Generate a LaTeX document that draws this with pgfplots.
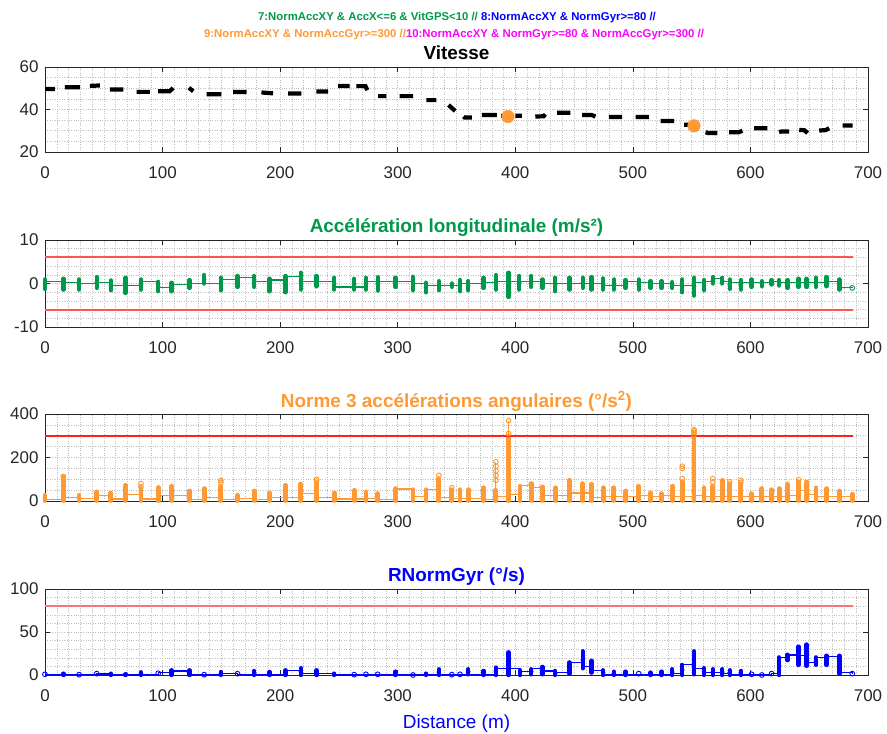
\documentclass[border=0pt]{standalone}
\usepackage{pgfplots}
\usepackage{pgfplotstable}
\pgfplotsset{compat=1.18}
\usepackage{fontspec}
\setmainfont{Liberation Sans}

\definecolor{axisgray}{rgb}{0.15,0.15,0.15}
\definecolor{gridgray}{rgb}{0.75,0.75,0.75}
\definecolor{mgreen}{rgb}{0,0.6,0.3}
\definecolor{morange}{rgb}{1,0.6,0.2}
\definecolor{mblue}{rgb}{0,0,1}
\definecolor{mmagenta}{rgb}{1,0,1}
\definecolor{accred}{rgb}{1,0.33,0.33}
\definecolor{gyrred}{rgb}{1,0.12,0.12}
\definecolor{rngred}{rgb}{0.95,0.47,0.47}

% ---------------- speed (GPS), one row pair per dash ----------------
\pgfplotstableread{
x y
0 49.6
8.5 49.6
nan nan
17 50.5
29.7 50.5
nan nan
38.2 51.1
46.7 51.3
nan nan
55.2 49.4
66.6 49.4
nan nan
77.9 48.3
89.2 48.3
nan nan
96.3 48.6
106 48.6
109 50.1
nan nan
122.4 50.2
126.1 48.6
nan nan
137.4 47.2
150.1 47.2
nan nan
160 48.2
171.4 48.2
nan nan
184.1 48.0
194 47.6
nan nan
206.8 47.5
218.1 47.5
nan nan
230.9 48.5
240.8 48.5
nan nan
249.3 51.1
259.2 51.1
nan nan
264.9 51.0
272.5 51.0
274.2 49.1
nan nan
283.3 46.3
290.4 46.3
nan nan
301.7 46.3
313 46.3
nan nan
324.4 44.4
332.9 44.4
nan nan
343.2 42.1
348.9 39.3
nan nan
356 36.7
357 36.2
363.1 36.2
nan nan
371.6 37.4
384.4 37.4
nan nan
388 37
396 36.9
nan nan
400 37.1
405.7 37.1
nan nan
417 36.7
424 36.8
425.6 37.7
nan nan
435.5 38.5
446.9 38.5
nan nan
456.8 37.4
465 37.4
468.2 36.7
nan nan
479.5 36.5
490.9 36.5
nan nan
502.3 36.5
513.6 36.5
nan nan
523.6 34.6
535 34.6
nan nan
543.5 32.8
547.7 32.8
nan nan
561.9 29.3
564 28.9
571.9 28.9
nan nan
581.8 29.3
590 29.3
593.2 30
nan nan
603.1 31.2
614.5 31.2
nan nan
624.4 29.3
626 29.6
633 29.6
nan nan
641.5 30.4
646 30.2
648.6 28.9
nan nan
658.5 30.1
664 30.3
667 31.2
nan nan
678.4 32.5
687 32.5
}\speed

\pgfplotstableread{
x y
393.8 36.7
552 32.3
}\gpsdots

% ---------------- longitudinal acceleration ----------------
\pgfplotstableread{
x lo hi
0 -1.24 0.93
15.6 -1.40 1.09
29 -1.40 0.93
44 -1.01 1.47
56 -1.55 0.70
68.5 -2.17 1.32
81.6 -1.40 0.93
96.3 -1.78 0.39
107.6 -1.78 0.16
123 -1.01 0.78
135.4 0 1.94
149.6 -1.55 1.32
163.7 -0.78 1.71
178 -0.78 1.71
191 -1.78 1.09
204.5 -2.02 1.71
217.6 -1.40 2.48
231 -0.62 1.71
246 -1.40 1.32
263 -1.40 1.09
273 -1.40 1.32
283 -1.63 1.47
298 -0.78 1.32
313 -1.55 1.55
324 -2.02 0.16
335 -1.55 0.54
346 -0.78 0
353 -1.78 0.78
360 -1.55 0.54
373 -1.01 1.32
383.5 -1.40 1.94
394.3 -3.10 2.48
403.4 -1.40 1.71
413.6 -0.78 1.71
423 -1.01 0.93
434 -1.78 1.32
446 -1.40 1.32
457.4 -1.01 1.32
464.8 -1.40 1.47
474.7 -1.40 1.16
483.8 -1.40 0.93
493.8 -1.01 0.78
505 -1.40 0.93
515 -1.01 0.54
524.4 -1.01 0.54
533.5 -1.01 0.31
542 -2.02 0.93
552 -2.79 1.32
560.5 -1.55 0.78
568 0 1.47
576 0 1.32
582.4 -1.24 0.93
591.8 -1.40 0.78
601 -0.78 0.93
609.7 -0.62 0.54
618 -0.23 0.78
624.4 -0.47 0.78
631.5 -1.01 0.78
641 -0.78 1.09
647.7 -0.78 1.09
655.7 -0.78 1.32
664.8 -0.62 1.47
675.6 -1.40 0.93
}\acccols

\pgfplotstableread{
x c
0 0.5
15.6 0.3
29 0
44 0.3
56 -0.5
68.5 -0.5
81.6 0.5
96.3 -1.0
107.6 -0.2
123 0
135.4 0
149.6 1.0
163.7 1.3
178 0.5
191 0.8
204.5 1.7
217.6 0.4
231 0.4
246 -0.8
263 -0.8
273 0.5
283 0.5
298 0.5
313 0
324 -0.5
335 -0.5
346 -0.5
353 0
360 0
373 0.3
383.5 0.4
394.3 0.4
403.4 0.4
413.6 0.5
423 -0.1
434 0
446 0
457.4 0
464.8 0
474.7 -0.4
483.8 -0.5
493.8 0.5
505 0.3
515 0
524.4 0
533.5 -0.5
542 -0.5
552 0.3
560.5 0.5
568 1.1
576 0.5
582.4 0.2
591.8 0.2
601 0.3
609.7 0.3
618 0.5
624.4 0.3
631.5 0.2
641 0.3
647.7 0.3
655.7 0.3
664.8 0.5
675.6 -0.85
686.6 -1.01
}\accline

% ---------------- norm of the 3 angular accelerations ----------------
\pgfplotstableread{
x lo hi
0 2 26
15.6 2 110
29 2 26
44 2 42
56 2 37
68.5 2 72
81.6 2 57
96.3 2 62
107.6 2 68
123 2 46
135.4 2 57
149.6 2 68
163.7 2 26
178 2 46
191 2 37
204.5 2 72
217.6 2 78
231 2 85
246 2 37
263 2 49
273 2 42
283 2 34
298 2 57
313 2 52
324 2 52
335 2 103
346 2 52
353 2 52
360 2 52
373 2 61
383.5 2 49
394.3 2 300
404 2 68
413.6 2 77
423 2 65
434 2 61
446 2 95
457.4 2 80
464.8 2 77
474.7 2 61
483.8 2 61
493.8 2 46
505 2 68
515 2 37
524.4 2 34
533.5 2 68
542 2 88
552 2 295
560.5 2 61
568 2 68
576 2 95
582.4 2 80
591.8 2 78
601 2 34
609.7 2 57
618 2 52
624.4 2 57
631.5 2 77
641 2 88
647.7 2 88
655.7 2 61
664.8 2 57
675.6 2 46
686.6 2 31
}\gyrcols

\pgfplotstableread{
x y
15.6 113
81.6 65
81.6 80
149.6 85
149.6 95
231 92
231 100
335 118
346 61
383.5 95
383.5 118
383.5 138
383.5 160
383.5 180
394.3 310
394.3 369
413.6 78
542 103
542 150
542 160
552 305
552 315
552 322
552 328
568 88
568 103
582.4 88
591.8 85
591.8 95
641 98
}\gyrpts

\pgfplotstableread{
x c
0 6
15.6 18
29 12
44 26
56 9
68.5 29
81.6 9
96.3 26
107.6 26
123 6
135.4 18
149.6 6
163.7 11
178 8
191 18
204.5 18
217.6 34
231 18
246 9
263 9
273 12
283 8
298 55
313 20
324 52
335 18
346 10
353 10
360 11
373 5
383.5 20
394.3 30
404 72
413.6 60
423 25
434 25
446 37
457.4 37
464.8 15
474.7 20
483.8 20
493.8 20
505 25
515 20
524.4 25
533.5 20
542 20
552 26
560.5 20
568 20
576 20
582.4 20
591.8 20
601 20
609.7 20
618 20
624.4 20
631.5 25
641 50
647.7 30
655.7 20
664.8 20
675.6 20
686.6 20
}\gyrline

% ---------------- RNormGyr ----------------
\pgfplotstableread{
x lo hi
15.6 0 1.6
56 0 1.6
68.5 0 0.8
81.6 0 3.1
107.6 0 5.5
123 0 5.5
149.6 0 3.5
178 0 4.7
191 0 3.5
204.5 0 5.5
217.6 0 7.9
231 0 5.5
246 0 1.6
298 0 3.9
324 0 1.6
335 0 6.7
360 0.8 6.7
373 0 4.7
383.5 0 8.7
394.3 0 26.4
404 0 5.5
413.6 0.8 6.7
423 0.8 9.4
434 0 4.7
446 1.6 14.6
457.4 7.9 27.6
464.8 2.8 16.5
474.7 0 5.5
483.8 0 3.9
493.8 0 3.9
515 0 2.8
524.4 0 3.9
533.5 0 6.7
542 0 11.8
552 0.8 27.6
560.5 0 7.9
568 0 6.7
576 0 6.7
582.4 0 5.5
591.8 0 4.7
624.4 0 20.5
631.5 17.3 23.6
641 11.8 33
647.7 10.6 35.4
655.7 11.8 20.5
664.8 11.8 22.4
675.6 1.6 22.4
}\rngcols

\pgfplotstableread{
x y
0 0.8
29 0.4
44 1.6
96.3 2.0
135.4 0.4
163.7 1.5
263 0.4
273 0.8
283 0.8
313 0
346 0.4
353 0.8
505 1.6
601 0.8
609.7 0
618 1.6
686.6 1.6
}\rngpts

\pgfplotstableread{
x c
0 0.8
15.6 0.4
29 0.4
44 1.2
56 0
68.5 0
81.6 0.4
96.3 2.8
107.6 4.7
123 1
135.4 1
149.6 1.6
163.7 1
178 1
191 0
204.5 5.5
217.6 1.6
231 1.6
246 0
263 0.4
273 0.4
283 0.4
298 0.4
313 0
324 0.4
335 0.8
346 0.4
353 0.8
360 0.8
373 1
383.5 7.9
394.3 7.5
404 4
413.6 7.9
423 4.7
434 3
446 14.6
457.4 10
464.8 5.5
474.7 0.8
483.8 0.8
493.8 0.8
505 0.8
515 0.8
524.4 0.8
533.5 2
542 11.8
552 7.9
560.5 3
568 3
576 2
582.4 1
591.8 0.8
601 0.8
609.7 0.8
618 1.6
624.4 20.5
631.5 23.3
641 22.4
647.7 15
655.7 20.5
664.8 21.7
675.6 2.8
686.6 1.6
}\rngline

\pgfplotsset{
  panel/.style={
    scale only axis, width=823bp, anchor=south west,
    xmin=0, xmax=700, xtick={0,100,...,700},
    minor x tick num=9,
    grid=both,
    major grid style={gridgray, dotted, line width=0.5bp},
    minor grid style={gridgray, dotted, line width=0.5bp},
    major tick length=5bp, minor tick length=0pt,
    axis line style={axisgray, line width=0.7bp},
    every tick/.append style={axisgray, line width=0.7bp},
    tick label style={text=axisgray, font=\fontsize{17}{20}\selectfont},
    xticklabel style={yshift=-11bp},
    yticklabel style={xshift=-3bp},
    /pgf/number format/assume math mode=true,
    every axis title/.style={at={(0.5,1)}, anchor=base, yshift=7bp,
      font=\bfseries\fontsize{19}{22}\selectfont},
    clip=false,
  },
  cols/.style n args={2}{#1, only marks, mark=none, forget plot,
    error bars/.cd, y dir=both, y explicit, error mark=none,
    error bar style={#1, line width=#2, line cap=round}},
  thinline/.style={#1, const plot, line width=1.1bp},
  opencirc/.style={#1, only marks, mark=o, mark size=2.4bp,
    mark options={line width=0.9bp}},
}

\begin{document}
\begin{tikzpicture}
\path[use as bounding box] (0,0) rectangle (887bp,734bp);

\node[anchor=base, font=\bfseries\fontsize{11.4}{13}\selectfont] at (457bp,713.3bp)
  {\color{mgreen}7:NormAccXY \& AccX<=6 \& VitGPS<10 // \color{mblue}8:NormAccXY \& NormGyr>=80 //};
\node[anchor=base, font=\bfseries\fontsize{11.4}{13}\selectfont] at (454bp,696.7bp)
  {\color{morange}9:NormAccXY \& NormAccGyr>=300 //\color{mmagenta}10:NormAccXY \& NormGyr>=80 \& NormAccGyr>=300 //};

% speed
\begin{axis}[panel, at={(45bp,582bp)}, height=85bp,
  ymin=20, ymax=60, ytick={20,40,60}, minor y tick num=3,
  title={Vitesse}]
\addplot[black, line width=4.2bp, unbounded coords=jump] table[x=x, y=y] {\speed};
\addplot[only marks, mark=*, mark size=6.3bp,
  mark options={draw=morange, fill=morange}] table[x=x, y=y] {\gpsdots};
\end{axis}

% longitudinal acceleration
\begin{axis}[panel, at={(45bp,407bp)}, height=87bp,
  ymin=-10, ymax=10, ytick={-10,0,10}, minor y tick num=4,
  title={Accélération longitudinale (m/s²)}, title style={text=mgreen}]
\addplot[thinline=mgreen] table[x=x, y=c] {\accline};
\addplot[cols={mgreen}{4.4bp}] table[x=x, y expr={(\thisrow{lo}+\thisrow{hi})/2},
  y error expr={(\thisrow{hi}-\thisrow{lo})/2}] {\acccols};
\addplot[opencirc=mgreen] coordinates {(686.6,-1.01)};
\addplot[draw=accred, line width=2bp] coordinates {(0,6) (687,6)};
\addplot[draw=accred, line width=2bp] coordinates {(0,-6) (687,-6)};
\end{axis}

% angular accelerations
\begin{axis}[panel, at={(45bp,233bp)}, height=87bp,
  ymin=0, ymax=400, ytick={0,200,400}, minor y tick num=3,
  title={Norme 3 accélérations angulaires (°/s\textsuperscript{2})}, title style={text=morange}]
\addplot[thinline=morange] table[x=x, y=c] {\gyrline};
\addplot[morange, line width=1bp] coordinates {(394.3,300) (394.3,369)};
\addplot[morange, line width=1bp] coordinates {(383.5,49) (383.5,180)};
\addplot[morange, line width=1bp] coordinates {(552,295) (552,328)};
\addplot[cols={morange}{4.8bp}] table[x=x, y expr={(\thisrow{lo}+\thisrow{hi})/2},
  y error expr={(\thisrow{hi}-\thisrow{lo})/2}] {\gyrcols};
\addplot[opencirc=morange] table[x=x, y=y] {\gyrpts};
\addplot[draw=gyrred, line width=1.8bp] coordinates {(0,300) (687,300)};
\end{axis}

% RNormGyr
\begin{axis}[panel, at={(45bp,59bp)}, height=86bp,
  ymin=0, ymax=100, ytick={0,50,100}, minor y tick num=4,
  title={RNormGyr (°/s)}, title style={text=mblue},
  xlabel={Distance (m)},
  every axis x label/.style={at={(0.5,0)}, anchor=base, yshift=-53bp,
    text=mblue, font=\fontsize{19}{22}\selectfont}]
\addplot[thinline=mblue] table[x=x, y=c] {\rngline};
\addplot[cols={mblue}{4.4bp}] table[x=x, y expr={(\thisrow{lo}+\thisrow{hi})/2},
  y error expr={(\thisrow{hi}-\thisrow{lo})/2}] {\rngcols};
\addplot[opencirc=mblue] table[x=x, y=y] {\rngpts};
\addplot[draw=rngred, line width=1.8bp] coordinates {(0,80) (687,80)};
\end{axis}
\end{tikzpicture}
\end{document}
